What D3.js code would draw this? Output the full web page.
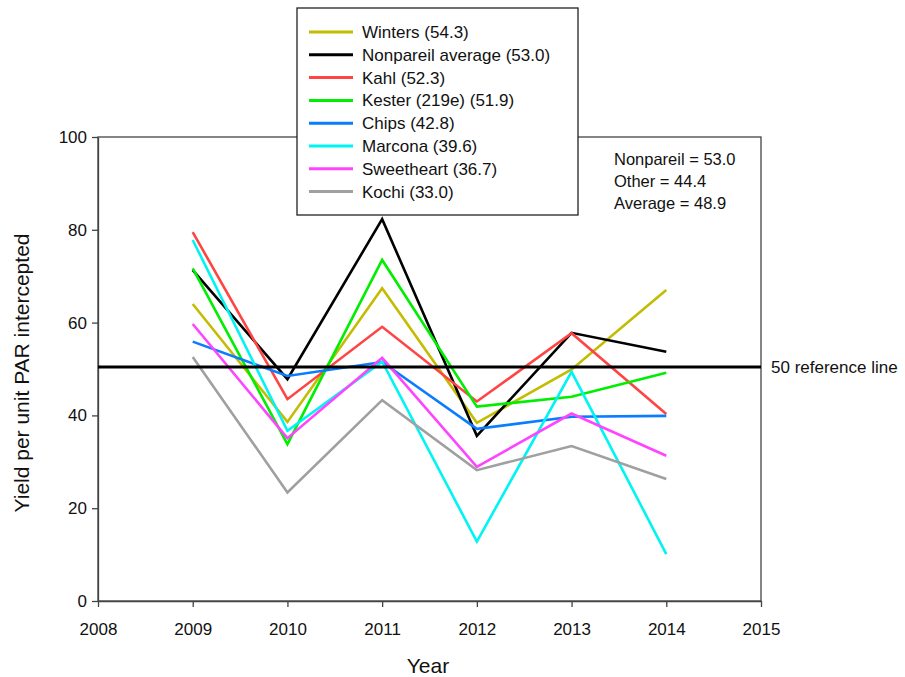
<!DOCTYPE html>
<html lang="en">
<head>
    <meta charset="UTF-8">
    <title>Yield per unit PAR</title>
    <script src="https://d3js.org/d3.v7.min.js"></script>
    <style>
        body { margin: 0; background: #fff; }
        svg text { font-family: "Liberation Sans", Arial, sans-serif; fill: #111; }
    </style>
</head>
<body>
<svg width="905" height="677"></svg>

<script>
    const years = [2009, 2010, 2011, 2012, 2013, 2014];
    const xTicks = [2008, 2009, 2010, 2011, 2012, 2013, 2014, 2015];
    const yTicks = [0, 20, 40, 60, 80, 100];

    const names = ["Winters (54.3)", "Nonpareil average (53.0)", "Kahl (52.3)", "Kester (219e) (51.9)",
        "Chips (42.8)", "Marcona (39.6)", "Sweetheart (36.7)", "Kochi (33.0)"];
    const colors = ["#c4bc00", "#000000", "#ff4444", "#00ee00", "#0a7cff", "#00f4f4", "#ff44ff", "#a0a0a0"];

    const winters    = [64.0, 38.6, 67.4, 38.4, 49.9, 67.0];
    const nonpareil  = [71.3, 47.8, 82.3, 35.6, 57.8, 53.7];
    const kahl       = [79.5, 43.5, 59.1, 43.0, 57.7, 40.3];
    const kester     = [71.7, 33.8, 73.5, 41.9, 44.0, 49.2];
    const chips      = [55.9, 48.5, 51.5, 37.1, 39.7, 39.9];
    const marcona    = [77.8, 36.7, 51.6, 12.8, 49.4, 10.1];
    const sweetheart = [59.7, 35.1, 52.4, 28.9, 40.4, 31.3];
    const kochi      = [52.6, 23.4, 43.3, 28.2, 33.4, 26.3];
    const series = [winters, nonpareil, kahl, kester, chips, marcona, sweetheart, kochi];

    const refValue = 50;
    const summary = ["Nonpareil = 53.0", "Other = 44.4", "Average = 48.9"];

    const svg = d3.select("svg");
    const plotLeft = 98, plotRight = 761, plotTop = 137, plotBottom = 601;

    const x = d3.scaleLinear().domain([2008, 2015]).range([plotLeft, plotRight]);
    const y = d3.scaleLinear().domain([0, 100]).range([plotBottom, plotTop]);

    // frame
    svg.append("rect")
        .attr("x", plotLeft).attr("y", plotTop)
        .attr("width", plotRight - plotLeft).attr("height", plotBottom - plotTop)
        .attr("fill", "none").attr("stroke", "#444").attr("stroke-width", 1.3);

    const xAxis = svg.append("g")
        .attr("transform", "translate(0," + plotBottom + ")")
        .call(d3.axisBottom(x).tickValues(xTicks).tickFormat(d3.format("d")).tickSize(6).tickSizeOuter(0));
    const yAxis = svg.append("g")
        .attr("transform", "translate(" + plotLeft + ",0)")
        .call(d3.axisLeft(y).tickValues(yTicks).tickSize(6).tickSizeOuter(0));

    [xAxis, yAxis].forEach(function (g) {
        g.select(".domain").attr("stroke", "#444").attr("stroke-width", 1.3);
        g.selectAll(".tick line").attr("stroke", "#444").attr("stroke-width", 1.3);
        g.selectAll(".tick text")
            .style("font-family", "Liberation Sans, Arial, sans-serif")
            .style("font-size", "17px").attr("fill", "#111");
    });
    xAxis.selectAll(".tick text").attr("dy", "0").attr("y", 34);
    yAxis.selectAll(".tick text").attr("x", -11);

    const line = d3.line()
        .x(function (d, i) { return x(years[i]); })
        .y(function (d) { return y(d); });

    svg.append("g").selectAll("path")
        .data(series)
        .enter()
        .append("path")
        .attr("d", function (d) { return line(d); })
        .attr("fill", "none")
        .attr("stroke", function (d, i) { return colors[i]; })
        .attr("stroke-width", 2.6)
        .attr("stroke-linejoin", "miter");

    // reference line
    svg.append("line")
        .attr("x1", plotLeft).attr("x2", plotRight)
        .attr("y1", y(refValue) - 2).attr("y2", y(refValue) - 2)
        .attr("stroke", "#000").attr("stroke-width", 3);
    svg.append("text")
        .attr("x", 771).attr("y", y(refValue) + 4)
        .style("font-size", "17px")
        .text("50 reference line");

    // summary text
    svg.append("g").selectAll("text")
        .data(summary)
        .enter()
        .append("text")
        .attr("x", 614)
        .attr("y", function (d, i) { return 165 + i * 22; })
        .style("font-size", "16.5px")
        .text(function (d) { return d; });

    // legend
    const legend = svg.append("g");
    legend.append("rect")
        .attr("x", 297).attr("y", 8).attr("width", 281).attr("height", 207)
        .attr("fill", "#fff").attr("stroke", "#222").attr("stroke-width", 1.3);
    const rows = legend.selectAll("g.row")
        .data(names)
        .enter()
        .append("g")
        .attr("class", "row")
        .attr("transform", function (d, i) { return "translate(0," + (32 + i * 22.8) + ")"; });
    rows.append("line")
        .attr("x1", 309).attr("x2", 353)
        .attr("stroke", function (d, i) { return colors[i]; })
        .attr("stroke-width", 3);
    rows.append("text")
        .attr("x", 362).attr("y", 6)
        .style("font-size", "17px")
        .text(function (d) { return d; });

    // axis titles
    svg.append("text")
        .attr("transform", "translate(29,373) rotate(-90)")
        .attr("text-anchor", "middle")
        .style("font-size", "21px")
        .text("Yield per unit PAR intercepted");
    svg.append("text")
        .attr("x", 428).attr("y", 673)
        .attr("text-anchor", "middle")
        .style("font-size", "21px")
        .text("Year");
</script>
</body>
</html>
